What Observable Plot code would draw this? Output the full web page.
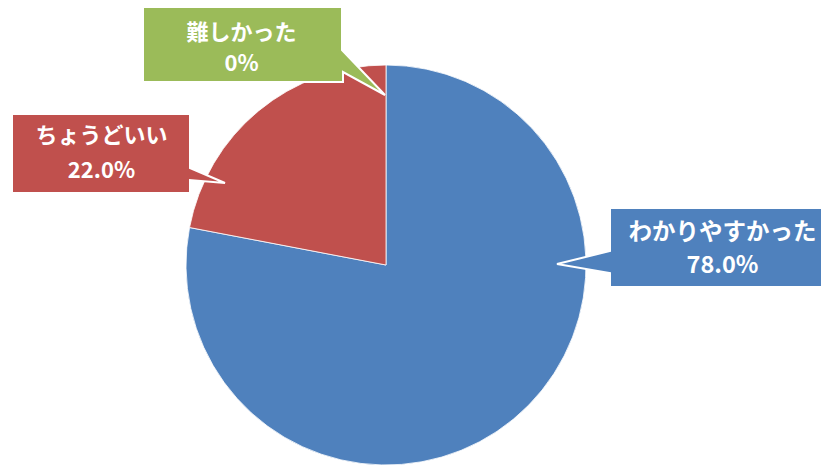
<!DOCTYPE html>
<html><head><meta charset="utf-8">
<script src="https://cdn.jsdelivr.net/npm/d3@7"></script>
<script src="https://cdn.jsdelivr.net/npm/@observablehq/plot@0.6"></script>
<style>html,body{margin:0;padding:0;background:#fff;overflow:hidden} svg{display:block}</style>
</head><body><div id="chart"></div>
<script>
// ---- data ----
const categories = ["わかりやすかった", "ちょうどいい", "難しかった"];
const values = [78.0, 22.0, 0];
const valueLabels = ["78.0%", "22.0%", "0%"];
const colors = ["#4F81BD", "#C0504D", "#9BBB59"];

// ---- layout (pixel positions in the 821x465 frame) ----
const W = 821, H = 465;
const pieCenter = [386, 265], pieRadius = 200;
const calloutShapes = [
  // blue
  [[610,208],[845,208],[845,287],[610,287],[610,273],[557,264],[610,251]],
  // red
  [[12,114],[190,114],[190,168],[225,183],[190,180],[190,193],[12,193]],
  // green
  [[143,7],[342,7],[342,50],[385,95],[343,72],[343,82],[143,82]]
];
const textAnchors = [[722, 232, 265], [101, 135, 170], [241, 32, 63]];
const textSizes = [23.5, 22, 22];

const rows = categories.map((c, i) => ({
  category: c, value: values[i], label: valueLabels[i], color: colors[i],
  shape: calloutShapes[i], tx: textAnchors[i][0], ty1: textAnchors[i][1], ty2: textAnchors[i][2],
  size: textSizes[i]
}));
const arcs = d3.pie().sort(null).value(d => d.value)(rows);

const font = "'Noto Sans CJK JP', 'Noto Sans', sans-serif";

function pieMark(index, scales) {
  const g = d3.create("svg:g");
  const cx = scales.x(pieCenter[0]), cy = scales.y(pieCenter[1]);
  const r = scales.x(pieCenter[0] + pieRadius) - cx;
  const arc = d3.arc().innerRadius(0).outerRadius(r);
  g.attr("transform", `translate(${cx},${cy})`);
  g.selectAll("path").data(arcs.filter(a => a.data.value > 0)).join("path")
    .attr("d", arc).attr("fill", a => a.data.color)
    .attr("stroke", "#fff").attr("stroke-width", 0.8).attr("stroke-linejoin", "round");
  return g.node();
}
function calloutMark(index, scales) {
  const g = d3.create("svg:g");
  const line = d3.line().x(p => scales.x(p[0])).y(p => scales.y(p[1]));
  g.selectAll("path").data(rows).join("path")
    .attr("d", d => line(d.shape) + "Z")
    .attr("fill", d => d.color)
    .attr("stroke", "#fff").attr("stroke-width", 2).attr("stroke-linejoin", "miter");
  return g.node();
}

const chart = Plot.plot({
  width: W, height: H,
  margin: 0,
  style: {background: "#fff", fontFamily: font, overflow: "hidden"},
  x: {type: "linear", domain: [0, W], range: [0, W], axis: null},
  y: {type: "linear", domain: [0, H], range: [0, H], axis: null},
  marks: [
    pieMark,
    calloutMark,
    Plot.text(rows, {x: "tx", y: "ty1", text: "category", fill: "#fff", fontSize: "size", fontWeight: 600, fontFamily: font, textAnchor: "middle"}),
    Plot.text(rows, {x: "tx", y: "ty2", text: "label", fill: "#fff", fontSize: "size", fontWeight: 600, fontFamily: font, textAnchor: "middle"})
  ]
});
document.getElementById("chart").appendChild(chart);
</script>
</body></html>
